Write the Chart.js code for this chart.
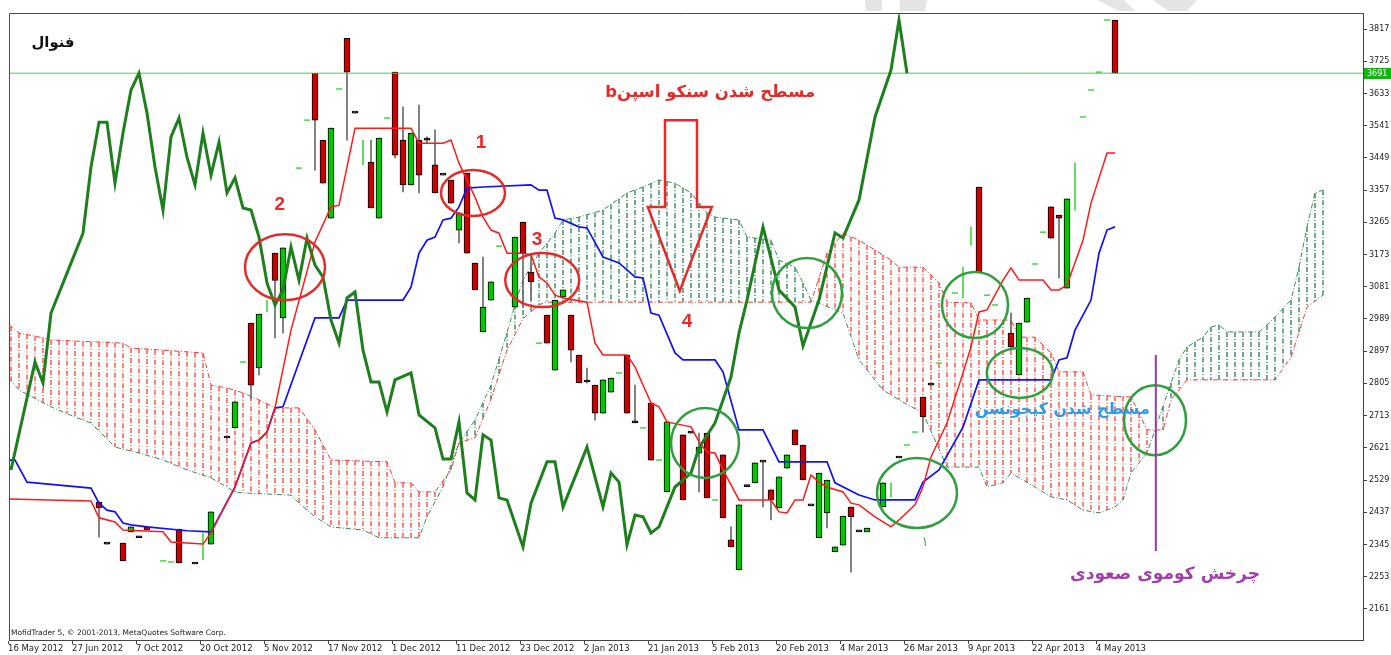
<!DOCTYPE html>
<html><head><meta charset="utf-8">
<script src="https://cdn.jsdelivr.net/npm/chart.js@4.4.0/dist/chart.umd.min.js"></script>
<style>html,body{margin:0;padding:0;background:#fff;overflow:hidden}#wrap{width:1391px;height:655px}</style>
</head><body><div id="wrap"><canvas id="c" width="1391" height="655"></canvas></div>
<script>
// ---------- axis labels ----------
const xTickLabels = ['16 May 2012','27 Jun 2012','7 Oct 2012','20 Oct 2012','5 Nov 2012','17 Nov 2012','1 Dec 2012','11 Dec 2012','23 Dec 2012','2 Jan 2013','21 Jan 2013','5 Feb 2013','20 Feb 2013','4 Mar 2013','26 Mar 2013','9 Apr 2013','22 Apr 2013','4 May 2013'];
const barsPerLabel = 8;
const yTickValues = [2161,2253,2345,2437,2529,2621,2713,2805,2897,2989,3081,3173,3265,3357,3449,3541,3633,3725,3817];
const levelPrice = 3691;

// ---------- candles (bar index, OHLC) ----------
const candleIdx = [11,12,14,15,16,17,21,23,25,27,
 28,30,31,33,34,38,39,40,42,43,
 45,46,48,49,50,51,52,53,54,55,
 56,57,58,59,60,63,64,65,67,68,
 69,70,71,72,73,74,75,77,78,80,
 82,84,85,86,87,89,90,91,92,93,
 94,95,96,97,98,99,100,101,102,103,
 104,105,106,107,109,111,114,115,121,125,
 126,127,130,131,132,138];
const openV = [2466,2346,2349,2381,2364,2395,2389,2289,2346,2649,
 2678,2977,2849,3177,2992,3691,3500,3277,3791,3577,
 3437,3277,3694,3500,3372,3500,3500,3429,3400,3386,
 3243,3406,3149,2952,3043,3023,3266,3123,3000,2843,
 3052,3000,2886,2809,2800,2720,2780,2886,2692,2749,
 2495,2658,2663,2606,2663,2601,2358,2272,2515,2521,
 2586,2501,2449,2563,2672,2629,2455,2364,2435,2324,
 2343,2452,2381,2381,2452,2592,2766,2800,3366,2949,
 2829,2980,3309,3286,3077,3843];
const highV = [2466,2346,2349,2395,2364,2395,2389,2289,2438,2649,
 2752,2977,3003,3177,3192,3691,3500,3534,3791,3577,
 3500,3506,3694,3594,3520,3600,3509,3529,3400,3386,
 3292,3406,3149,3166,3095,3223,3266,3172,3000,3043,
 3072,3000,2886,2849,2800,2815,2820,2886,2800,2749,
 2695,2658,2663,2663,2663,2601,2395,2458,2515,2578,
 2586,2501,2538,2601,2672,2629,2455,2549,2529,2338,
 2426,2452,2381,2392,2521,2592,2766,2800,3366,3006,
 2977,3049,3309,3286,3332,3843];
const lowV = [2366,2346,2298,2381,2364,2387,2292,2289,2346,2649,
 2678,2763,2829,2935,2949,3414,3377,3277,3500,3577,
 3306,3277,3449,3352,3372,3349,3492,3349,3400,3320,
 3206,3177,3072,2952,3043,3023,3023,3043,2920,2843,
 3052,2866,2806,2806,2700,2720,2780,2720,2692,2586,
 2495,2472,2663,2495,2478,2421,2338,2272,2510,2521,
 2452,2415,2449,2563,2629,2529,2455,2364,2392,2324,
 2343,2266,2381,2381,2452,2592,2666,2800,3123,2909,
 2829,2980,3220,3106,3077,3691];
const closeV = [2449,2346,2298,2395,2364,2387,2292,2289,2438,2649,
 2752,2800,3003,3099,3192,3557,3377,3534,3694,3577,
 3306,3506,3457,3372,3520,3400,3500,3349,3400,3320,
 3292,3177,3072,3023,3095,3223,3177,3095,2920,3043,
 3072,2900,2806,2809,2720,2815,2820,2720,2692,2586,
 2695,2472,2663,2623,2478,2421,2338,2458,2510,2578,
 2580,2472,2538,2601,2629,2529,2455,2549,2529,2338,
 2426,2424,2381,2392,2521,2592,2709,2800,3123,2909,
 2977,3049,3220,3277,3332,3691];

// ---------- light green marks ----------
const dashIdx = [19,20,29,36,37,41,47,61,66,76,79,81,88,112,113,116,118,122,123,128,129,134,135,136,137];
const dashVal = [2298,2295,2866,3420,3557,3646,3563,3197,2920,2835,2678,2586,2472,2629,2666,2863,3063,3057,3029,3146,3237,3566,3643,3694,3843];
const markIdx = [24,32,44,110,119,120,133];
const markLow = [2301,3009,3429,2481,3049,3200,3300];
const markHigh = [2378,3043,3500,2521,3137,3252,3434];

// ---------- Ichimoku lines (bar index, value) ----------
const tenkanIdx = [-0.25,10,11,13,14,19,20,24,25,28,30,31,32,33,35,38,40,41,42,43,50,51,54,55,56,58,59,60,61,62,64,65,66,67,68,69,72,73,74,77,78,80,81,82,85,86,87,88,89,91,95,96,97,98,99,100,101,102,104,105,106,108,110,111,113,114,115,117,119,120,121,122,124,125,126,129,130,131,132,134,135,137,138];
const tenkanVal = [2475,2469,2421,2409,2386,2381,2352,2346,2378,2509,2635,2643,2666,2735,2957,3209,3309,3314,3423,3534,3534,3491,3491,3500,3434,3337,3280,3243,3234,3177,3177,3172,3109,3092,3057,3049,3037,2920,2886,2886,2852,2749,2738,2695,2681,2638,2609,2606,2558,2472,2472,2438,2435,2472,2472,2543,2523,2509,2495,2463,2458,2424,2395,2415,2458,2509,2595,2692,2835,2909,3009,3015,3100,3135,3100,3100,3072,3072,3086,3214,3320,3463,3463];
const kijunIdx = [-0.25,0.5,2,3,10,11,12,13,14,15,17,22,25,28,30,31,32,33,34,38,41,42,49,50,51,52,53,54,55,56,57,59,65,66,67,68,69,71,72,74,76,78,79,80,81,83,84,88,89,91,94,96,102,103,106,108,113,114,116,119,121,130,131,132,133,135,136,137,138];
const kijunVal = [2586,2586,2523,2521,2506,2463,2443,2438,2406,2401,2395,2384,2381,2509,2635,2643,2666,2735,2738,2992,2992,3043,3043,3080,3177,3214,3223,3272,3277,3309,3363,3366,3372,3357,3357,3277,3272,3252,3249,3166,3149,3109,3106,3006,3000,2892,2872,2872,2838,2672,2672,2581,2581,2521,2486,2472,2472,2523,2558,2680,2815,2815,2872,2878,2957,3043,3177,3243,3252];
const chikouIdx = [0,3,4,5,7,9,10,11,12,13,14,15,16,17,18,19,20,21,22,23,24,25,26,27,28,29,30,31,32,33,34,35,36,37,38,39,40,41,42,43,44,45,46,47,48,50,51,53,54,55,56,57,58,59,60,61,62,64,65,67,68,69,72,74,75,76,77,78,79,80,81,83,85,86,88,90,91,92,94,96,98,99,101,103,104,106,108,110,111,112];
const chikouVal = [2558,2866,2806,3006,3120,3234,3423,3551,3551,3377,3520,3643,3691,3577,3423,3300,3509,3563,3451,3372,3520,3400,3494,3349,3392,3306,3300,3223,3092,3029,3072,3195,3100,3220,3143,3109,2986,2920,3049,3066,2900,2809,2809,2723,2815,2835,2715,2678,2589,2589,2695,2492,2472,2658,2643,2478,2472,2338,2463,2581,2581,2452,2623,2452,2549,2523,2344,2429,2424,2378,2395,2509,2549,2621,2692,2823,2949,3043,3252,3072,3023,2912,3043,3235,3220,3329,3566,3700,3843,3691];
const spanAIdx = [-0.25,1,5,8,10,13,16,19,22,25,28,29,35,36,38,40,44,46,51,52,54,56,58,60,62,63,64,66,68,69,71,74,77,79,81,83,85,87,88,91,92,95,96,98,99,100,104,106,109,111,114,117,121,122,124,125,128,130,132,134,136,138,139,140,142,143,145,146,147,149,150,151,152,156,157,158,160,161,162,163,164];
const spanAVal = [2820,2786,2738,2709,2692,2623,2606,2586,2558,2535,2495,2492,2486,2463,2424,2395,2386,2364,2364,2424,2509,2635,2700,2800,2950,3030,3100,3177,3234,3272,3280,3300,3349,3366,3386,3377,3349,3292,3280,3272,3223,3214,3157,3137,3092,3043,3006,2872,2786,2758,2720,2566,2566,2509,2521,2549,2509,2481,2472,2443,2435,2452,2472,2549,2606,2672,2806,2872,2909,2937,2966,2972,2952,2952,2972,2995,3043,3137,3252,3349,3357];
const spanBIdx = [-0.25,1,4,5,14,15,24,25,27,29,31,33,36,38,40,47,48,50,51,53,55,56,58,60,62,64,66,67,100,102,104,106,108,110,111,114,116,117,120,121,125,126,128,130,131,134,135,140,141,142,144,145,147,158,160,162,164];
const spanBVal = [2972,2949,2935,2929,2920,2906,2892,2800,2792,2778,2758,2735,2735,2672,2586,2581,2521,2521,2495,2495,2558,2635,2650,2760,2900,2990,3030,3037,3037,3177,3234,3214,3186,3157,3137,3137,3092,3037,3035,2986,2986,2937,2937,2892,2838,2838,2772,2766,2720,2672,2672,2758,2815,2815,2880,3023,3057];

// ---------- annotations (positions in bar index / price) ----------
const ellipses = [
 {j:34.25,p:3137,rx:40,ry:33,c:'#e52a2a'},
 {j:57.75,p:3349,rx:32,ry:23,c:'#e52a2a'},
 {j:66.4,p:3100,rx:37,ry:27,c:'#e52a2a'},
 {j:86.75,p:2635,rx:34,ry:35,c:'#2e9e3e'},
 {j:99.5,p:3063,rx:35,ry:35,c:'#2e9e3e'},
 {j:120.5,p:3029,rx:33,ry:33,c:'#2e9e3e'},
 {j:113.25,p:2492,rx:40,ry:35,c:'#2e9e3e'},
 {j:126.1,p:2835,rx:33,ry:25,c:'#2e9e3e'},
 {j:143,p:2700,rx:31,ry:35,c:'#2e9e3e'}
];
const notes = [
 {t:'فنوال',j:5.25,p:3777,w:43,c:'#111',f:'bold',fam:'DejaVu Sans',rtl:true},
 {t:'مسطح شدن سنکو اسپنb',j:87.4,p:3634,w:210,c:'#e52a2a',f:'bold',fam:'DejaVu Sans',rtl:true},
 {t:'مسطح شدن کیجونسن',j:131.4,p:2729,w:175,c:'#2f9be8',f:'bold',fam:'DejaVu Sans',rtl:true},
 {t:'چرخش کوموی صعودی',j:144.25,p:2258,w:190,c:'#a040a8',f:'bold',fam:'DejaVu Sans',rtl:true},
 {t:'1',j:58.75,p:3491,s:19,c:'#e52a2a',f:'bold',fam:'Liberation Sans'},
 {t:'2',j:33.6,p:3314,s:19,c:'#e52a2a',f:'bold',fam:'Liberation Sans'},
 {t:'3',j:65.75,p:3214,s:19,c:'#e52a2a',f:'bold',fam:'Liberation Sans'},
 {t:'4',j:84.5,p:2980,s:19,c:'#e52a2a',f:'bold',fam:'Liberation Sans'},
 {t:'۱',j:114.25,p:2349,s:13,c:'#3cb44b',f:'normal',fam:'DejaVu Sans'}
];
const arrowPts = [[81.75,3557],[85.75,3557],[85.75,3309],[87.6,3309],[83.6,3069],[79.6,3309],[81.75,3309]];
const kumoTwistLine = {j:143.1,p1:2886,p2:2326};
const copyrightText = 'MofidTrader 5, \u00A9 2001-2013, MetaQuotes Software Corp.';
// faint watermark pieces above the plot frame (page pixels)
const watermark = [
 [[865,0],[882,0],[882,11],[866,11]],
 [[900,0],[927,0],[925,11],[900,11]],
 [[1097,0],[1124,0],[1135,11],[1119,11]],
 [[1153,0],[1197,0],[1187,11],[1168,11]]
];

// ---------- helpers ----------
const pts = (idx, val) => idx.map((j, i) => ({x: j, y: val[i]}));
const bodyColor = candleIdx.map((_, i) => closeV[i] > openV[i] ? '#00c800' : (closeV[i] < openV[i] ? '#cc0000' : '#000'));
// position of a drawn straight-segment line at bar j (used only to place the cloud hatching)
function lineAt(idx, val, j) {
  for (let k = 0; k < idx.length - 1; k++) {
    if (j >= idx[k] && j <= idx[k + 1]) return val[k] + (val[k + 1] - val[k]) * (j - idx[k]) / (idx[k + 1] - idx[k]);
  }
  return null;
}

const kumoPlugin = {
  id: 'kumo',
  beforeDatasetsDraw(chart) {
    const {ctx, chartArea: a, scales: {x, y}} = chart;
    ctx.save();
    ctx.beginPath(); ctx.rect(a.left, a.top, a.right - a.left, a.bottom - a.top); ctx.clip();
    ctx.lineWidth = 1.3; ctx.setLineDash([5, 2, 1, 2]);
    const first = Math.ceil(Math.max(spanAIdx[0], spanBIdx[0]));
    const last = Math.min(spanAIdx[spanAIdx.length - 1], spanBIdx[spanBIdx.length - 1]);
    for (let j = first; j <= last; j++) {
      const va = lineAt(spanAIdx, spanAVal, j), vb = lineAt(spanBIdx, spanBVal, j);
      if (va === null || vb === null) continue;
      const px = Math.round(x.getPixelForValue(j));
      const ya = y.getPixelForValue(va), yb = y.getPixelForValue(vb);
      ctx.strokeStyle = vb > va ? 'rgb(255,60,60)' : 'rgb(40,125,80)';
      ctx.beginPath(); ctx.moveTo(px, Math.min(ya, yb)); ctx.lineTo(px, Math.max(ya, yb)); ctx.stroke();
    }
    ctx.restore();
  }
};

const annPlugin = {
  id: 'ann',
  beforeDraw(chart) {
    const {ctx} = chart;
    ctx.save(); ctx.fillStyle = '#e4e4e4';
    watermark.forEach(poly => { ctx.beginPath(); poly.forEach((q, i) => i ? ctx.lineTo(q[0], q[1]) : ctx.moveTo(q[0], q[1])); ctx.closePath(); ctx.fill(); });
    ctx.restore();
  },
  afterDatasetsDraw(chart) {
    const {ctx, chartArea: a, scales: {x, y}} = chart;
    const X = v => x.getPixelForValue(v), Y = v => y.getPixelForValue(v);
    ctx.save();
    ctx.strokeStyle = '#4a4a4a'; ctx.lineWidth = 1;
    ctx.beginPath(); ctx.moveTo(a.left + 0.5, a.bottom); ctx.lineTo(a.left + 0.5, a.top + 0.5); ctx.lineTo(a.right, a.top + 0.5); ctx.stroke();
    ctx.lineWidth = 2.5;
    ellipses.forEach(e => { ctx.strokeStyle = e.c; ctx.beginPath(); ctx.ellipse(X(e.j), Y(e.p), e.rx, e.ry, 0, 0, Math.PI * 2); ctx.stroke(); });
    ctx.strokeStyle = '#e52a2a'; ctx.lineWidth = 2.5; ctx.lineJoin = 'miter';
    ctx.beginPath(); arrowPts.forEach((q, i) => { const px = X(q[0]), py = Y(q[1]); i ? ctx.lineTo(px, py) : ctx.moveTo(px, py); }); ctx.closePath(); ctx.stroke();
    ctx.strokeStyle = '#9b35a8'; ctx.lineWidth = 2;
    ctx.beginPath(); ctx.moveTo(X(kumoTwistLine.j), Y(kumoTwistLine.p1)); ctx.lineTo(X(kumoTwistLine.j), Y(kumoTwistLine.p2)); ctx.stroke();
    notes.forEach(n => {
      ctx.direction = n.rtl ? 'rtl' : 'ltr';
      ctx.textAlign = 'center'; ctx.textBaseline = 'middle'; ctx.fillStyle = n.c;
      let size = n.s || 16;
      ctx.font = `${n.f} ${size}px "${n.fam}"`;
      if (n.w) { const m = ctx.measureText(n.t).width; size = size * n.w / m; ctx.font = `${n.f} ${size.toFixed(2)}px "${n.fam}"`; }
      ctx.fillText(n.t, X(n.j), Y(n.p));
    });
    ctx.restore();
  },
  afterDraw(chart) {
    const {ctx, chartArea: a, scales: {y}} = chart;
    ctx.save();
    const py = Math.round(y.getPixelForValue(levelPrice));
    ctx.fillStyle = '#12b312'; ctx.fillRect(a.right + 1, py - 5, 27, 11);
    ctx.fillStyle = '#fff'; ctx.font = '8px "DejaVu Sans"'; ctx.textBaseline = 'middle'; ctx.textAlign = 'left';
    ctx.fillText(String(levelPrice), a.right + 4, py + 0.5);
    ctx.fillStyle = '#222'; ctx.font = '7.5px "DejaVu Sans"'; ctx.textBaseline = 'alphabetic';
    ctx.fillText(copyrightText, a.left + 2, a.bottom - 5);
    ctx.restore();
  }
};

const lineDs = (label, idx, val, color, width, order, extra) => Object.assign({type: 'line', label, data: pts(idx, val), borderColor: color, borderWidth: width, pointRadius: 0, tension: 0, fill: false, order}, extra || {});

new Chart(document.getElementById('c'), {
  type: 'line',
  data: {
    datasets: [
      lineDs('Senkou Span B', spanBIdx, spanBVal, '#ff3838', 1, 20, {borderDash: [5, 2, 1, 2]}),
      lineDs('Senkou Span A', spanAIdx, spanAVal, '#3a8a5a', 1, 19, {borderDash: [5, 2, 1, 2]}),
      {type: 'bar', label: 'wicks', data: candleIdx.map((j, i) => ({x: j, y: [lowV[i], highV[i]]})), backgroundColor: '#6a6a6a', barThickness: 1, grouped: false, order: 12},
      {type: 'bar', label: 'bodies', data: candleIdx.map((j, i) => ({x: j, y: [Math.min(openV[i], closeV[i]), Math.max(openV[i], closeV[i])]})), backgroundColor: bodyColor, borderColor: '#000', borderWidth: 1, borderSkipped: false, barThickness: 6, minBarLength: 2, grouped: false, order: 11},
      {type: 'bar', label: 'marks', data: markIdx.map((j, i) => ({x: j, y: [markLow[i], markHigh[i]]})), backgroundColor: '#44d844', barThickness: 1, grouped: false, order: 10},
      {type: 'line', label: 'dashes', data: pts(dashIdx, dashVal), showLine: false, pointStyle: 'line', pointRadius: 3, pointBorderColor: '#44d844', pointBorderWidth: 1.5, order: 9},
      {type: 'line', label: 'level', data: [{x: -0.25, y: levelPrice}, {x: 169, y: levelPrice}], borderColor: '#4ccc4c', borderWidth: 1, pointRadius: 0, order: 8},
      lineDs('Kijun-sen', kijunIdx, kijunVal, '#1010ff', 1.7, 3),
      lineDs('Tenkan-sen', tenkanIdx, tenkanVal, '#ff1a1a', 1.5, 2),
      lineDs('Chikou Span', chikouIdx, chikouVal, '#1f7f1f', 3, 1)
    ]
  },
  options: {
    responsive: false, animation: false, devicePixelRatio: 1, events: [],
    layout: {padding: {left: 9, top: 13, right: 0, bottom: 0}},
    plugins: {legend: {display: false}, tooltip: {enabled: false}},
    scales: {
      x: {
        type: 'linear', position: 'bottom', min: -0.25, max: 169, offset: false,
        afterBuildTicks: s => { s.ticks = xTickLabels.map((_, k) => ({value: k * barsPerLabel - 0.375})); },
        afterFit: s => { s.height = 15; },
        ticks: {autoSkip: false, maxRotation: 0, align: 'start', padding: 0, font: {family: 'DejaVu Sans', size: 8.5}, color: '#222', callback: (v, i) => xTickLabels[i]},
        grid: {drawOnChartArea: false, drawTicks: true, tickLength: 4, color: '#444', offset: false},
        border: {display: true, color: '#444', width: 1}
      },
      y: {
        type: 'linear', position: 'right', min: 2072, max: 3863,
        afterBuildTicks: s => { s.ticks = yTickValues.map(v => ({value: v})); },
        afterFit: s => { s.width = 28; },
        ticks: {padding: 2, font: {family: 'DejaVu Sans', size: 8}, color: '#222', callback: v => String(v)},
        grid: {drawOnChartArea: false, drawTicks: true, tickLength: 4, color: '#444'},
        border: {display: true, color: '#444', width: 1}
      }
    }
  },
  plugins: [kumoPlugin, annPlugin]
});
</script></body></html>
